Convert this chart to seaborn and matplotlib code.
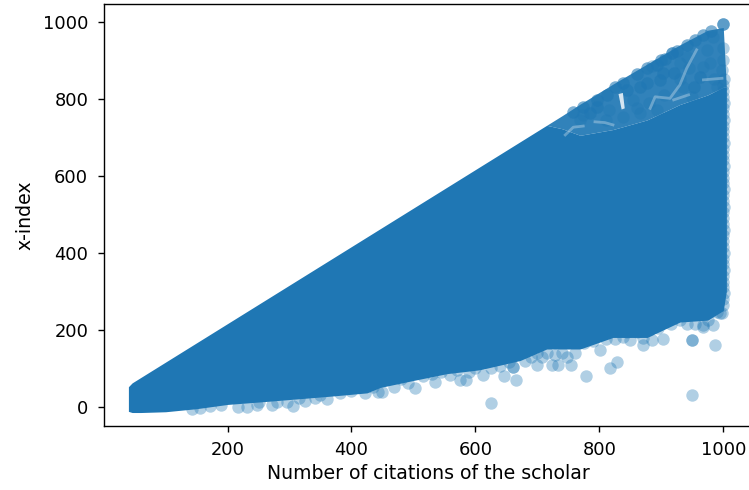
import matplotlib
matplotlib.use("Agg")
import matplotlib.pyplot as plt
import pandas as pd
import seaborn as sns

BLUE = "#1f77b4"

outline_citations = [40, 46, 60, 100, 150, 200, 264, 370, 425, 446, 499, 554, 607, 672, 715, 740, 769, 822, 877, 930, 975, 1000, 1005]
outline_low = [-12, -15, -15, -13, -5, 6, 14, 28, 36, 50, 68, 86, 96, 120, 150, 150, 150, 180, 180, 220, 225, 250, 300]
outline_core = [52, 62, 76, 116, 166, 216, 280, 386, 441, 462, 515, 570, 623, 688, 731, 722, 705, 720, 745, 785, 810, 830, 830]
outline_top = [52, 62, 76, 116, 166, 216, 280, 386, 441, 462, 515, 570, 623, 688, 731, 756, 786, 838, 890, 940, 978, 985, 830]

# thin gap in the cloud near the top
gap_citations = [831, 838, 841, 836]
gap_xindex = [812, 815, 775, 772]

# paler streaks in the patchy area, each one citations then x-index
streak_1 = ([745, 758, 774], [706, 726, 729])
streak_2 = ([793, 809, 822], [740, 738, 732])
streak_3 = ([882, 890, 914, 930, 941, 957], [775, 805, 801, 836, 879, 927])
streak_4 = ([968, 998], [849, 853])
streak_5 = ([920, 944], [797, 810])

# single scholars along the lower edge
low_citations = [142, 155, 172, 190, 217, 231, 247, 250, 271, 280, 296, 305, 315, 325, 341, 350, 361, 382, 400, 422, 435, 443,
                 449, 468, 480, 491, 503, 515, 530, 535, 545, 559, 570, 575, 585, 590, 600, 612, 625, 625, 640, 646, 655, 660, 660, 666,
                 680, 690, 699, 700, 707, 715, 723, 734, 729, 740, 754, 748, 760, 775, 778, 790, 810, 818, 825, 829, 801,
                 838, 845, 850, 860, 871, 871, 880, 895, 903, 885, 915, 930, 950, 950, 950, 955, 941, 968, 975, 987, 984, 990, 998, 967, 995]
low_xindex = [-7, -2, 2, 4, 0, 0, 4, 12, 4, 12, 13, 3, 22, 16, 24, 30, 19, 35, 40, 36, 52, 39,
              39, 52, 72, 61, 48, 80, 85, 65, 90, 82, 95, 70, 70, 90, 100, 82, 9, 100, 105, 80, 115, 102, 102, 70,
              120, 130, 108, 140, 130, 140, 108, 108, 134, 140, 108, 130, 140, 165, 80, 170, 175, 100, 175, 117, 147,
              182, 195, 173, 195, 160, 178, 200, 205, 176, 173, 215, 225, 30, 173, 173, 215, 216, 208, 225, 160, 212, 245, 243, 212, 243]

# scholars along the right edge, all close to 1000 citations
right_citations = [1000, 999, 1001, 1000, 999, 1000, 1001, 999, 1000, 1001, 1000, 999, 1000, 1001, 999, 1000, 1000, 1001, 999, 1000,
                   1001, 1000, 999, 1000, 1001, 1000, 999, 1000, 1001, 999, 1000, 1000, 1001, 999, 1000, 1001, 1000, 999, 1000, 1001]
right_xindex = [265, 280, 295, 310, 325, 340, 355, 370, 385, 400, 415, 430, 445, 460, 475, 490, 505, 520, 535, 550,
                565, 580, 595, 610, 625, 640, 655, 670, 685, 700, 715, 730, 745, 760, 775, 790, 805, 820, 835, 850]

# scholars along the top diagonal and in the patchy area under it
top_citations = [999, 999, 999, 981, 981, 968, 968, 955, 955, 941, 941, 917, 917, 917, 906, 906, 893, 893, 877, 877,
                 860, 860, 839, 839, 825, 825, 812, 812, 796, 796, 774, 774, 758, 758, 925, 925, 900, 900, 885,
                 844, 866, 855, 877, 898, 893, 866, 839, 785, 774, 796, 769, 952, 963, 968, 930, 920, 903, 941,
                 973, 979, 984, 999, 999, 998,
                 844, 866, 877, 898, 785, 796, 952, 963, 920, 903, 810, 815, 860, 880, 905, 935, 950, 985, 990, 930, 945]
top_xindex = [994, 994, 994, 977, 977, 965, 965, 952, 952, 939, 939, 918, 918, 918, 902, 902, 887, 887, 879, 879,
              864, 864, 840, 840, 830, 830, 810, 810, 797, 797, 779, 779, 766, 766, 925, 925, 900, 900, 885,
              823, 831, 797, 840, 849, 771, 762, 753, 762, 758, 779, 745, 831, 857, 883, 892, 866, 866, 909,
              927, 892, 961, 931, 900, 875,
              823, 831, 840, 849, 762, 779, 831, 857, 866, 866, 745, 770, 775, 790, 810, 830, 805, 850, 830, 850, 880]

x_ticks = [200, 400, 600, 800, 1000]
y_ticks = [0, 200, 400, 600, 800, 1000]

points = pd.DataFrame({
    "citations": low_citations + right_citations + top_citations,
    "xindex": low_xindex + right_xindex + top_xindex,
})

fig = plt.figure(figsize=(7.49, 4.9), dpi=100)
# right spine falls just outside the picture, as in the reference
ax = fig.add_axes([103.5 / 749, 64 / 490, 649.5 / 749, 421.5 / 490])

# solid part of the cloud, then the thinner part below the diagonal
ax.fill_between(outline_citations, outline_low, outline_core, color=BLUE, lw=0, zorder=1)
ax.fill_between(outline_citations, outline_core, outline_top, color=BLUE, lw=0, alpha=0.92, zorder=1)

sns.scatterplot(data=points, x="citations", y="xindex", color=BLUE, alpha=0.35, s=80, linewidth=0, ax=ax, zorder=2)

ax.fill(gap_citations, gap_xindex, color="white", lw=0, alpha=0.8, zorder=3)
for streak_x, streak_y in [streak_1, streak_2, streak_3, streak_4, streak_5]:
    ax.plot(streak_x, streak_y, color="white", lw=2, alpha=0.3, zorder=3)

ax.set_xlim(-0.2, 1048)
ax.set_ylim(-50, 1044.7)
ax.set_xticks(x_ticks)
ax.set_yticks(y_ticks)
ax.tick_params(labelsize=12.9, width=1.0, length=4.4, pad=6.5)
for spine in ax.spines.values():
    spine.set_linewidth(1.0)
ax.set_xlabel("Number of citations of the scholar", fontsize=13.6, labelpad=3.5)
ax.set_ylabel("x-index", fontsize=13.6, labelpad=6)

fig.savefig("out.png", dpi=100)
